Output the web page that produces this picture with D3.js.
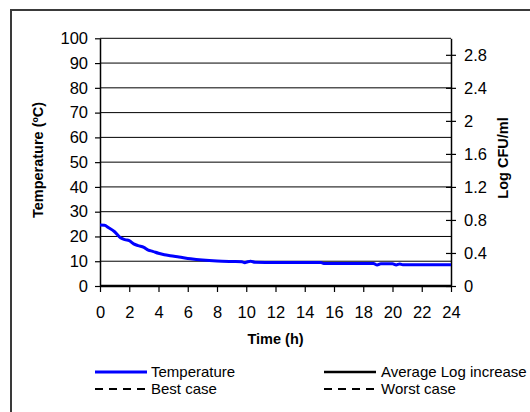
<!DOCTYPE html>
<html><head><meta charset="utf-8">
<script src="https://cdn.jsdelivr.net/npm/d3@7"></script>
<style>
body{margin:0;background:#fff;}
svg{display:block;font-family:"Liberation Sans",Arial,sans-serif;}
</style></head>
<body><svg id="c" width="530" height="412"></svg>
<script>
// ---- data ----
const times = [0,0.3,0.6,1.0,1.4,1.7,2.0,2.3,2.6,3.0,3.3,3.6,4.0,4.4,4.8,5.4,6.2,7.0,8.0,9.0,9.7,9.9,10.1,10.3,10.6,12,14,15.1,15.3,17,18.7,18.95,19.2,19.5,20.0,20.25,20.5,20.7,22,24];
const temps = [24.6,24.5,23.5,21.9,19.5,18.7,18.3,17.0,16.3,15.6,14.5,14.0,13.2,12.6,12.2,11.7,11.0,10.5,10.1,9.9,9.8,9.4,9.8,10.0,9.6,9.5,9.5,9.5,9.1,9.1,9.1,8.5,9.0,9.0,9.0,8.5,8.9,8.6,8.6,8.6];
const logTimes = [0,24];
const avgLog = [0,0];
const xTicks = [0,2,4,6,8,10,12,14,16,18,20,22,24];
const leftTicks = [0,10,20,30,40,50,60,70,80,90,100];
const rightTicks = [0,0.4,0.8,1.2,1.6,2,2.4,2.8];
const legendItems = ["Temperature","Average Log increase","Best case","Worst case"];

// ---- layout ----
const svg = d3.select("#c");
const x = d3.scaleLinear([0,24],[100,451]);
const yL = d3.scaleLinear([0,100],[286,38.3]);
const yR = d3.scaleLinear([0,3],[286,38.3]);

// outer border
svg.append("rect").attr("x",11).attr("y",10).attr("width",700).attr("height",700)
  .attr("fill","none").attr("stroke","#3a3a3a").attr("stroke-width",2);

// gridlines
svg.append("g").selectAll("line").data(leftTicks.filter(d=>d>0)).join("line")
  .attr("x1",100).attr("x2",451).attr("y1",d=>yL(d)).attr("y2",d=>yL(d))
  .attr("stroke","#000").attr("stroke-width",1);

// left axis
const gL = svg.append("g").attr("transform","translate(100,0)")
  .call(d3.axisLeft(yL).tickValues(leftTicks).tickSize(5).tickSizeOuter(0).tickPadding(7));
// right axis
const gR = svg.append("g").attr("transform","translate(451,0)")
  .call(d3.axisRight(yR).tickValues(rightTicks).tickFormat(d3.format("~g")).tickSize(5).tickSizeOuter(0).tickPadding(8));
gR.selectAll(".tick line").attr("x1",-5);
// bottom axis
const gB = svg.append("g").attr("transform","translate(0,286)")
  .call(d3.axisBottom(x).tickValues(xTicks).tickSize(6).tickSizeOuter(0).tickPadding(14));
[gL,gR,gB].forEach(g=>{
  g.selectAll("text").attr("font-size",16.5).attr("fill","#000").attr("font-family","Liberation Sans, Arial, sans-serif");
  g.selectAll("line,path").attr("stroke","#000").attr("stroke-width",1.2);
});
gL.select(".domain").attr("stroke-width",1.5);
gR.select(".domain").attr("stroke-width",1.5);
gR.selectAll("text").attr("x",13);

// average log line (at 0, right axis)
svg.append("path").datum(logTimes.map((t,i)=>[t,avgLog[i]]))
  .attr("d",d3.line().x(d=>x(d[0])).y(d=>yR(d[1])))
  .attr("fill","none").attr("stroke","#000").attr("stroke-width",2.5);

// temperature line
svg.append("path").datum(times.map((t,i)=>[t,temps[i]]))
  .attr("d",d3.line().x(d=>x(d[0])).y(d=>yL(d[1])).curve(d3.curveMonotoneX))
  .attr("fill","none").attr("stroke","#0000ff").attr("stroke-width",3);

// axis titles
svg.append("text").attr("x",275.5).attr("y",344).attr("text-anchor","middle")
  .attr("font-weight","bold").attr("font-size",14.5).text("Time (h)");
svg.append("text").attr("transform","translate(43,160) rotate(-90)").attr("text-anchor","middle")
  .attr("font-weight","bold").attr("font-size",14.5).text("Temperature (ºC)");
svg.append("text").attr("transform","translate(508,158) rotate(-90)").attr("text-anchor","middle")
  .attr("font-weight","bold").attr("font-size",14.5).text("Log CFU/ml");

// legend
const legPos = [
  {x1:95,x2:147,y:372,tx:151,ty:377,color:"#0000ff",w:3,dash:null},
  {x1:324,x2:376,y:372,tx:381,ty:377,color:"#000",w:2.5,dash:null},
  {x1:95,x2:147,y:389,tx:151,ty:394,color:"#000",w:2,dash:"8,6"},
  {x1:324,x2:376,y:389,tx:381,ty:394,color:"#000",w:2,dash:"8,6"}
];
const lg = svg.append("g");
legendItems.forEach((name,i)=>{
  const p = legPos[i];
  lg.append("line").attr("x1",p.x1).attr("x2",p.x2).attr("y1",p.y).attr("y2",p.y)
    .attr("stroke",p.color).attr("stroke-width",p.w).attr("stroke-dasharray",p.dash);
  lg.append("text").attr("x",p.tx).attr("y",p.ty).attr("font-size",15).text(name);
});
</script></body></html>
